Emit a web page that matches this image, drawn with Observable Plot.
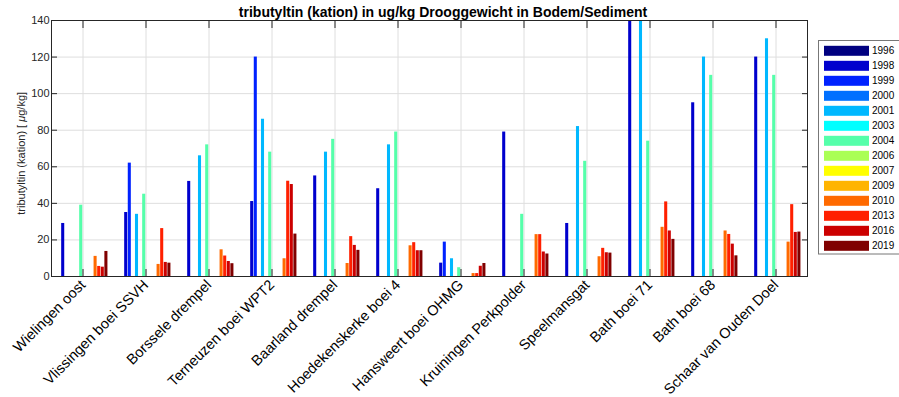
<!DOCTYPE html>
<html><head><meta charset="utf-8">
<script src="https://cdn.jsdelivr.net/npm/d3@7"></script>
<script src="https://cdn.jsdelivr.net/npm/@observablehq/plot@0.6"></script>
<style>body{margin:0;background:#fff}#chart{width:899px;height:397px}</style>
</head><body><div id="chart"></div>
<script>
const title = "tributyltin (kation) in ug/kg Drooggewicht in Bodem/Sediment";
const locations = ["Wielingen oost","Vlissingen boei SSVH","Borssele drempel","Terneuzen boei WPT2","Baarland drempel","Hoedekenskerke boei 4","Hansweert boei OHMG","Kruiningen Perkpolder","Speelmansgat","Bath boei 71","Bath boei 68","Schaar van Ouden Doel"];
const years = ["1996","1998","1999","2000","2001","2003","2004","2006","2007","2009","2010","2013","2016","2019"];
const yearColors = ["#000080","#0000cd","#0022ff","#0070ff","#00b8ff","#00ffff","#55ffaa","#aaff55","#ffff00","#ffb400","#ff6a00","#ff2000","#cc0000","#800000"];
const v1996 = [null,null,null,null,null,null,null,null,null,null,null,null];
const v1998 = [29,35,52,41,55,48,7.3,79,29,150,95,120];
const v1999 = [null,62,null,120,null,null,18.8,null,null,null,null,null];
const v2000 = [null,null,null,null,null,null,null,null,null,null,null,null];
const v2001 = [null,34,66,86,68,72,9.7,null,82,150,120,130];
const v2003 = [null,null,null,null,null,null,null,null,null,null,null,null];
const v2004 = [39,45,72,68,75,79,4.8,34,63,74,110,110];
const v2006 = [null,null,null,null,null,null,null,null,null,null,null,null];
const v2007 = [null,null,null,null,null,null,null,null,null,null,null,null];
const v2009 = [null,null,null,null,null,null,null,null,null,null,null,null];
const v2010 = [11,6.6,14.6,9.7,7.1,16.8,1.6,22.9,10.8,26.9,24.9,18.8];
const v2013 = [5.5,26.2,11.2,52.1,21.8,18.5,1.6,22.9,15.4,40.8,23,39.3];
const v2016 = [5.1,7.7,8.2,50.3,17,14.1,5.6,13.4,13,24.9,17.7,24.1];
const v2019 = [13.7,7.3,7,23.2,14.3,14.1,7.1,12.3,12.8,20.3,11.3,24.3];
const yTicks = [0,20,40,60,80,100,120,140];
const yLabel = "tributyltin (kation) [ ";

const series = [v1996,v1998,v1999,v2000,v2001,v2003,v2004,v2006,v2007,v2009,v2010,v2013,v2016,v2019];
const bars = [];
series.forEach((vals, s) => vals.forEach((v, i) => { if (v != null) bars.push({loc: i, s, year: years[s], value: v}); }));
const xTicks = locations.map((d, i) => i + 1);
const groupW = 0.8, slot = groupW / years.length, bw = slot * 0.85;
const x1 = d => d.loc + 1 - groupW / 2 + d.s * slot + (slot - bw) / 2;

const font = "'Liberation Sans', Arial, Helvetica, sans-serif";
const chart = Plot.plot({
  width: 899, height: 397,
  marginLeft: 51, marginRight: 92, marginTop: 20, marginBottom: 121,
  style: {fontFamily: font, fontSize: "11px", color: "#262626", background: "white", overflow: "visible"},
  x: {type: "linear", domain: [0.5, 12.5], axis: null},
  y: {domain: [0, 140], axis: null},
  color: {domain: years, range: yearColors},
  marks: [
    Plot.gridY(yTicks, {stroke: "#dedede", strokeOpacity: 1}),
    Plot.gridX(xTicks, {stroke: "#dedede", strokeOpacity: 1}),
    Plot.rectY(bars, {x1: x1, x2: d => x1(d) + bw, y1: d => 0, y2: "value", fill: "year", clip: true}),
    Plot.frame({stroke: "#262626"}),
    Plot.axisY(yTicks, {anchor: "left", tickSize: 0, tickPadding: 2, label: null, fontSize: 11, fill: "#262626"}),
    Plot.axisY(yTicks, {anchor: "left", tickSize: 6, dx: 6, tickFormat: () => "", label: null, stroke: "#262626"}),
    Plot.axisY(yTicks, {anchor: "right", tickSize: 6, dx: -6, tickFormat: () => "", label: null, stroke: "#262626"}),
    Plot.axisX(xTicks, {anchor: "bottom", tickSize: 7, dy: -7, tickFormat: () => "", label: null, stroke: "#262626"}),
    Plot.axisX(xTicks, {anchor: "top", tickSize: 7, dy: 7, tickFormat: () => "", label: null, stroke: "#262626"}),
    Plot.text(locations, {x: (d, i) => i + 1, y: d => 0, text: d => d, rotate: -45, textAnchor: "end", lineAnchor: "middle", fontSize: 14.5, dx: 0, dy: 6, fill: "#000"})
  ]
});
document.getElementById("chart").appendChild(chart);

const svg = d3.select(chart);
svg.append("text").attr("x", 443).attr("y", 17).attr("text-anchor", "middle")
  .attr("font-family", font).attr("font-size", 14).attr("font-weight", "bold").attr("fill", "#000").text(title);
const yl = svg.append("text").attr("transform", "translate(25.3,153.3) rotate(-90)").attr("text-anchor", "middle")
  .attr("font-family", font).attr("font-size", 11).attr("fill", "#262626");
yl.append("tspan").text(yLabel);
yl.append("tspan").attr("font-style", "italic").text("\u03bc");
yl.append("tspan").text("g/kg]");

const lg = svg.append("g").attr("font-family", font).attr("font-size", 10).attr("text-anchor", "start");
lg.append("rect").attr("x", 818.5).attr("y", 40.5).attr("width", 90).attr("height", 213.5).attr("fill", "white").attr("stroke", "#777");
years.forEach((y, i) => {
  const cy = 50.8 + 15 * i;
  lg.append("rect").attr("x", 824).attr("y", cy - 5).attr("width", 45).attr("height", 10).attr("fill", yearColors[i]);
  lg.append("text").attr("x", 872).attr("y", cy + 3.6).attr("fill", "#000").text(y);
});
</script></body></html>
